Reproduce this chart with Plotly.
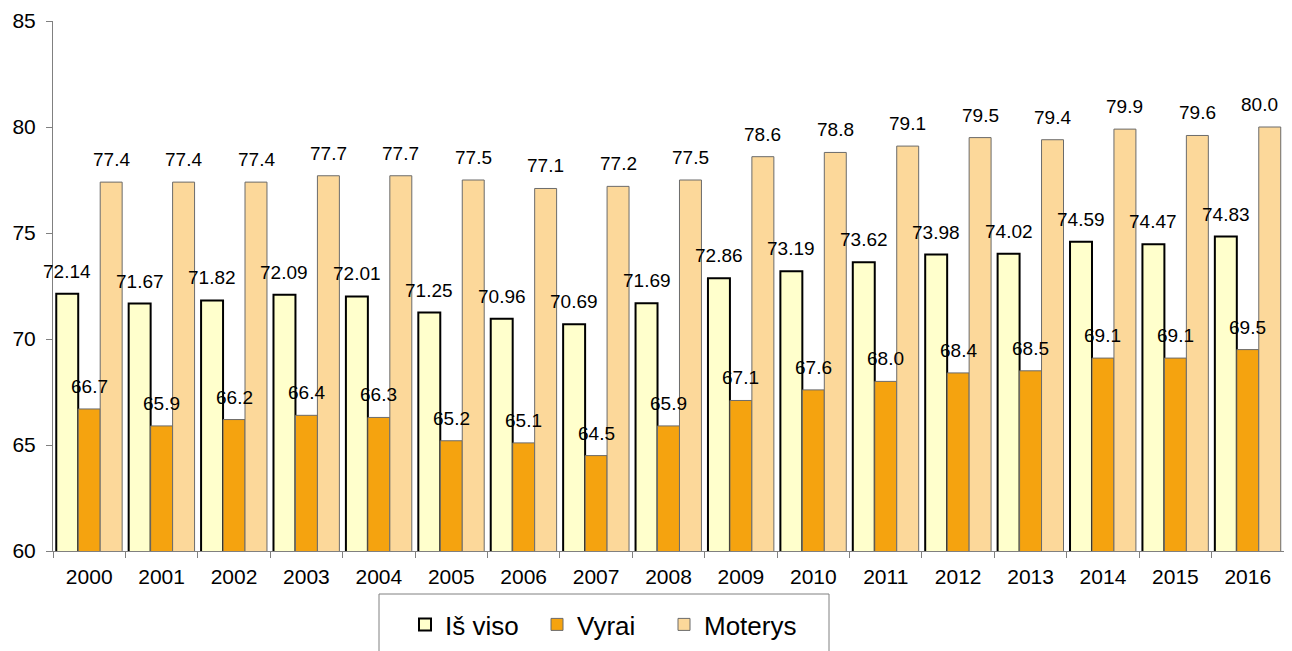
import plotly.graph_objects as go

years = [str(y) for y in range(2000, 2017)]
is_viso = [72.14, 71.67, 71.82, 72.09, 72.01, 71.25, 70.96, 70.69, 71.69,
           72.86, 73.19, 73.62, 73.98, 74.02, 74.59, 74.47, 74.83]
vyrai = [66.7, 65.9, 66.2, 66.4, 66.3, 65.2, 65.1, 64.5, 65.9,
         67.1, 67.6, 68.0, 68.4, 68.5, 69.1, 69.1, 69.5]
moterys = [77.4, 77.4, 77.4, 77.7, 77.7, 77.5, 77.1, 77.2, 77.5,
           78.6, 78.8, 79.1, 79.5, 79.4, 79.9, 79.6, 80.0]

FONT = "Liberation Sans, Arial, sans-serif"
# the page body keeps its default 8px margin, so coordinates are shifted by 8px
W, H = 1284, 643
PLOT_L, PLOT_R, PLOT_T, PLOT_B = 45, 1276, 13, 543

series = [
    ("Iš viso", is_viso, "#FFFFCC", "#000000", 2, "{:.2f}", -22, 87),
    ("Vyrai", vyrai, "#F5A30F", "#6b6b6b", 1, "{:.1f}", 0, 82),
    ("Moterys", moterys, "#FCD89A", "#6b6b6b", 1, "{:.1f}", 22, 100),
]

fig = go.Figure()
annotations = []
for name, vals, fill, line, lw, fmt, shift, legw in series:
    fig.add_trace(go.Bar(
        name=name,
        x=years,
        y=vals,
        legendwidth=legw,
        marker=dict(color=fill, line=dict(color=line, width=lw)),
    ))
    # labels placed by category index so the category axis keeps its order
    for i, v in enumerate(vals):
        ann = dict(
            x=i, y=v, xref="x", yref="y", text=fmt.format(v), showarrow=False,
            xshift=shift, yshift=10, yanchor="bottom",
            font=dict(size=19, color="#000000", family=FONT),
        )
        if i == len(vals) - 1 and shift > 0:
            # last label is pulled in so it stays inside the chart
            ann.update(xanchor="right", xshift=shift + 10)
        annotations.append(ann)

pw = PLOT_R - PLOT_L
ph = PLOT_B - PLOT_T
fig.update_layout(
    barmode="group",
    bargap=0.09,
    bargroupgap=0,
    width=W,
    height=H,
    margin=dict(l=PLOT_L, r=W - PLOT_R, t=PLOT_T, b=H - PLOT_B, autoexpand=False),
    paper_bgcolor="white",
    plot_bgcolor="white",
    font=dict(family=FONT, size=20, color="#000000"),
    annotations=annotations,
    showlegend=True,
    legend=dict(
        orientation="h",
        x=(397 - PLOT_L) / pw, xanchor="left",
        y=-50 / ph, yanchor="top",
        font=dict(size=26),
        bgcolor="rgba(0,0,0,0)",
    ),
    shapes=[dict(
        type="rect", xref="paper", yref="paper",
        x0=(371 - PLOT_L) / pw, x1=(821 - PLOT_L) / pw,
        y0=-43 / ph, y1=-0.3,
        line=dict(color="#808080", width=1),
    )],
    xaxis=dict(
        type="category",
        range=[-0.5, len(years) - 0.5],
        automargin=False,
        showline=True, linecolor="#808080", linewidth=1,
        ticks="outside", tickson="boundaries", ticklen=6, tickcolor="#808080",
        showgrid=False,
        tickfont=dict(size=21),
        tickangle=0,
        ticklabelstandoff=7,
    ),
    yaxis=dict(
        range=[60, 85], dtick=5,
        automargin=False,
        showline=True, linecolor="#808080", linewidth=1,
        ticks="outside", ticklen=6, tickcolor="#808080",
        showgrid=False, zeroline=False,
        tickfont=dict(size=21),
        ticklabelstandoff=6,
    ),
)

fig.write_html("out.html")
